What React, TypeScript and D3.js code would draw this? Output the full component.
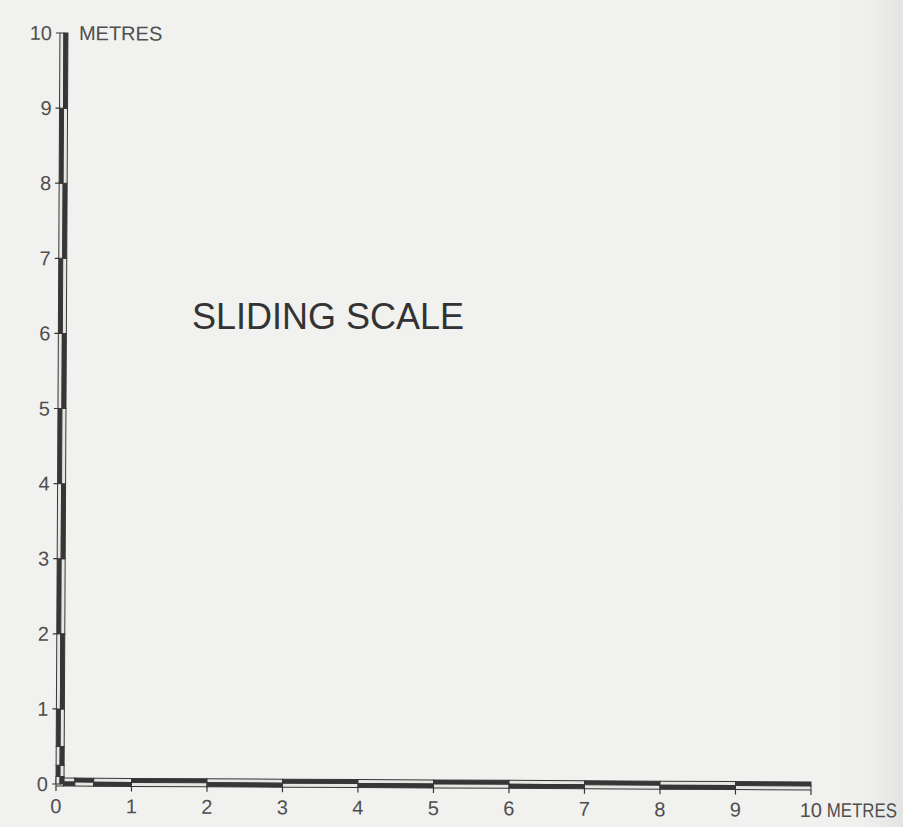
import React from "react";
import * as d3 from "d3";

const xTicks = [0, 1, 2, 3, 4, 5, 6, 7, 8, 9, 10];
const yTicks = [0, 1, 2, 3, 4, 5, 6, 7, 8, 9, 10];
const segmentBreaks = [0, 0.1, 0.25, 0.5, 1, 2, 3, 4, 5, 6, 7, 8, 9, 10];
const unitLabel = "METRES";
const title = "SLIDING SCALE";

const W = 903;
const H = 827;
const DARK = "#363636";
const LIGHT = "#e6e6e4";
const TEXT = "#4e4e4e";

export default function App() {
  const x = d3.scaleLinear().domain([0, 10]).range([56, 811]);
  const y = d3.scaleLinear().domain([0, 10]).range([784, 33]);
  const x0 = x(0);
  const y0 = y(0);
  const segs = d3.pairs(segmentBreaks);
  const bw = 4;

  return (
    <svg
      width={W}
      height={H}
      style={{ position: "absolute", left: 0, top: 0, display: "block" }}
      fontFamily="'Liberation Sans', Arial, sans-serif"
    >
      <defs>
        <linearGradient id="edge" x1="0" x2="1" y1="0" y2="0">
          <stop offset="0" stopColor="#f1f1ef" stopOpacity={0} />
          <stop offset="1" stopColor="#e3e3e1" stopOpacity={1} />
        </linearGradient>
      </defs>
      <rect width={W} height={H} fill="#f1f1ef" />
      <rect x={840} width={63} height={H} fill="url(#edge)" />
      <text x={192} y={329} fontSize={36} fill="#333">
        {title}
      </text>
      <g transform={`rotate(0.3 ${x0} ${y0})`}>
        {segs.map(([a, b], j) => {
          const topDark = j % 2 === 0;
          return (
            <g key={"h" + j}>
              <rect
                x={x(a)}
                y={y0 - 2 * bw + 2}
                width={x(b) - x(a)}
                height={bw}
                fill={topDark ? DARK : LIGHT}
                stroke={DARK}
                strokeWidth={1}
              />
              <rect
                x={x(a)}
                y={y0 - bw + 2}
                width={x(b) - x(a)}
                height={bw}
                fill={topDark ? LIGHT : DARK}
                stroke={DARK}
                strokeWidth={1}
              />
            </g>
          );
        })}
        {segs.map(([a, b], j) => {
          const rightDark = j % 2 === 0;
          return (
            <g key={"v" + j}>
              <rect
                x={x0}
                y={y(b)}
                width={bw}
                height={y(a) - y(b)}
                fill={rightDark ? LIGHT : DARK}
                stroke={DARK}
                strokeWidth={1}
              />
              <rect
                x={x0 + bw}
                y={y(b)}
                width={bw}
                height={y(a) - y(b)}
                fill={rightDark ? DARK : LIGHT}
                stroke={DARK}
                strokeWidth={1}
              />
            </g>
          );
        })}
        {xTicks.map((t) => (
          <g key={"xt" + t}>
            <line x1={x(t)} x2={x(t)} y1={y0 + 2} y2={y0 + 7} stroke={DARK} strokeWidth={1.2} />
            <text x={x(t)} y={y0 + 29} fontSize={20} fill={TEXT} textAnchor="middle">
              {t}
            </text>
          </g>
        ))}
        <text
          x={x(10) + 16}
          y={y0 + 29}
          fontSize={20}
          fill={TEXT}
          textLength={70}
          lengthAdjust="spacingAndGlyphs"
        >
          {unitLabel}
        </text>
        {yTicks.map((t) => (
          <g key={"yt" + t}>
            <line x1={x0 - 4} x2={x0} y1={y(t)} y2={y(t)} stroke={DARK} strokeWidth={1.2} />
            <text x={x0 - 8} y={y(t) + 7} fontSize={20} fill={TEXT} textAnchor="end">
              {t}
            </text>
          </g>
        ))}
        <text x={x0 + 19} y={y(10) + 7} fontSize={20} fill={TEXT}>
          {unitLabel}
        </text>
      </g>
    </svg>
  );
}
